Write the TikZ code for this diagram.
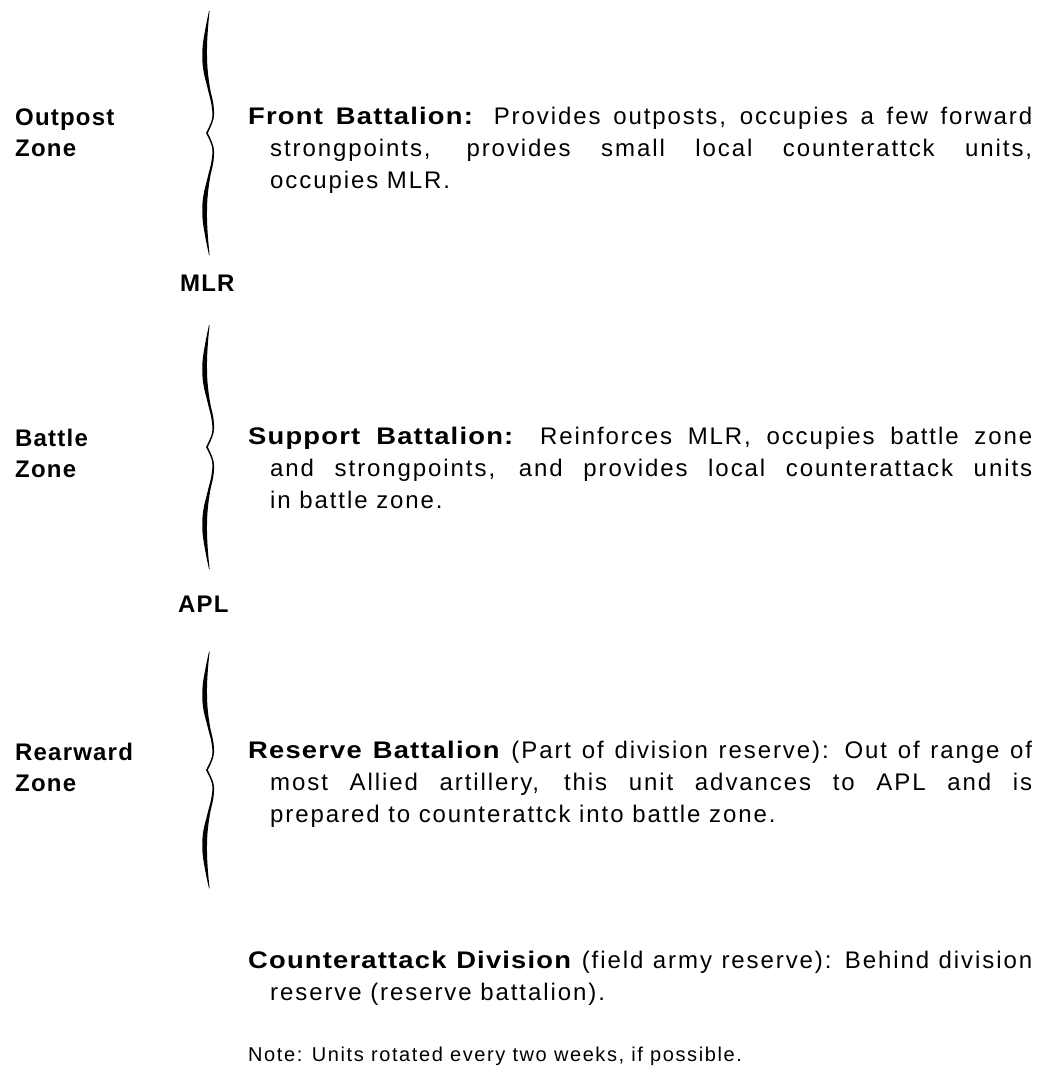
\documentclass[tikz,border=0pt]{standalone}
\usepackage{fontspec}
\setmainfont{Liberation Sans}
\newfontfamily\bodyfont[LetterSpace=8,BoldFeatures={FakeStretch=1.14,LetterSpace=5}]{Liberation Sans}
\newfontfamily\notefont[LetterSpace=8]{Liberation Sans}
\newfontfamily\labelfont[LetterSpace=5]{Liberation Sans}
\tikzset{
  zonelabel/.style={anchor=base west,inner sep=0pt,text width=200pt,align=left,
    font=\labelfont\bfseries\fontsize{24}{31}\selectfont},
  linelabel/.style={anchor=base west,inner sep=0pt,
    font=\labelfont\bfseries\fontsize{24}{31}\selectfont},
  unittext/.style={anchor=base west,inner sep=0pt,text width=784pt,align=justify,
    font=\bodyfont\fontsize{24}{32}\selectfont},
  notetext/.style={anchor=base west,inner sep=0pt,
    font=\notefont\fontsize{20}{22}\selectfont},
  zonebrace/.pic={
    \fill plot[smooth,tension=0.6] coordinates {(2,-122) (-1.5,-105) (-4.5,-85) (-4,-65) (0.5,-45) (4.5,-28) (5,-14) (-1,0)}
      -- plot[smooth,tension=0.6] coordinates {(0.8,0) (6.5,-14) (6.5,-28) (3,-45) (0.5,-65) (0,-85) (1,-105) (2.6,-122)} -- cycle;
    \fill[yscale=-1] plot[smooth,tension=0.6] coordinates {(2,-122) (-1.5,-105) (-4.5,-85) (-4,-65) (0.5,-45) (4.5,-28) (5,-14) (-1,0)}
      -- plot[smooth,tension=0.6] coordinates {(0.8,0) (6.5,-14) (6.5,-28) (3,-45) (0.5,-65) (0,-85) (1,-105) (2.6,-122)} -- cycle;
  }
}
\begin{document}
\begin{tikzpicture}[x=1pt,y=-1pt]
\useasboundingbox[fill=white] (0,0) rectangle (1058,1082);
% zone names and lines
\draw (15,125) node[zonelabel] (outpost) {Outpost\\Zone};
\draw (180,291) node[linelabel] (mlr) {MLR};
\draw (15,446) node[zonelabel] (battle) {Battle\\Zone};
\draw (178,612) node[linelabel] (apl) {APL};
\draw (15,760) node[zonelabel] (rearward) {Rearward\\Zone};
% braces
\pic (outbrace) at (207,133) {zonebrace};
\pic (batbrace) at (207,447) {zonebrace};
\pic[yscale=0.97] (rearbrace) at (207,770) {zonebrace};
% units
\draw (248,124) node[unittext] (front) {\hangindent=22pt\hangafter=1
  \textbf{Front Battalion:} Provides outposts, occupies a few forward\linebreak
  strongpoints, provides small local counterattck units,\linebreak
  occupies MLR.\par};
\draw (248,444) node[unittext] (support) {\hangindent=22pt\hangafter=1
  \textbf{Support Battalion:} Reinforces MLR, occupies battle zone\linebreak
  and strongpoints, and provides local counterattack units\linebreak
  in battle zone.\par};
\draw (248,758) node[unittext] (reserve) {\hangindent=22pt\hangafter=1
  \textbf{Reserve Battalion} (Part of division reserve): Out of range of\linebreak
  most Allied artillery, this unit advances to APL and is\linebreak
  prepared to counterattck into battle zone.\par};
\draw (248,968) node[unittext] (counter) {\hangindent=22pt\hangafter=1
  \textbf{Counterattack Division} (field army reserve): Behind division\linebreak
  reserve (reserve battalion).\par};
\draw (248,1061) node[notetext] (note) {Note: Units rotated every two weeks, if possible.};
\end{tikzpicture}
\end{document}
